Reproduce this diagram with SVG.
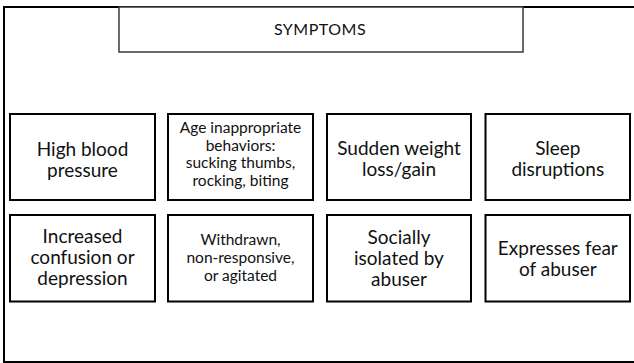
<svg xmlns="http://www.w3.org/2000/svg" width="634" height="363" viewBox="0 0 634 363">
<style>
.frame{fill:none;stroke:#000;stroke-width:2}
.title{fill:#fff;stroke:#3a3a3a;stroke-width:1.5}
.box{fill:#fff;stroke:#000;stroke-width:2}
text{font-family:Lato,"Liberation Sans",sans-serif;fill:#111;text-anchor:middle}
.t{font-size:16px;letter-spacing:0.5px}
.l{font-size:19px}
.s{font-size:15.5px}
</style>
<rect width="634" height="363" fill="#fff"/>
<path class="frame" d="M640 7 H4 V362 H640"/>
<g id="title">
<rect class="title" x="119" y="7" width="404" height="45"/>
<text class="t" x="320" y="35">SYMPTOMS</text>
</g>
<g id="connectors"></g>
<g id="n1"><rect class="box" x="10" y="114" width="145" height="86"/>
<text class="l" x="82.5" y="155.5">High blood</text><text class="l" x="82.5" y="176.5">pressure</text></g>
<g id="n2"><rect class="box" x="168" y="114" width="145" height="86"/>
<text class="s" x="240.5" y="133">Age inappropriate</text><text class="s" x="240.5" y="150.5">behaviors:</text><text class="s" x="240.5" y="168">sucking thumbs,</text><text class="s" x="240.5" y="185.5">rocking, biting</text></g>
<g id="n3"><rect class="box" x="327" y="114" width="144" height="86"/>
<text class="l" x="399" y="155">Sudden weight</text><text class="l" x="399" y="176">loss/gain</text></g>
<g id="n4"><rect class="box" x="485.5" y="114" width="144.5" height="86"/>
<text class="l" x="557.8" y="155">Sleep</text><text class="l" x="557.8" y="176">disruptions</text></g>
<g id="n5"><rect class="box" x="10" y="215" width="145" height="86.5"/>
<text class="l" x="82.5" y="243">Increased</text><text class="l" x="82.5" y="264">confusion or</text><text class="l" x="82.5" y="285">depression</text></g>
<g id="n6"><rect class="box" x="168" y="215" width="145" height="86.5"/>
<text class="s" x="240.5" y="245">Withdrawn,</text><text class="s" x="240.5" y="263">non-responsive,</text><text class="s" x="240.5" y="281">or agitated</text></g>
<g id="n7"><rect class="box" x="327" y="215" width="144" height="86.5"/>
<text class="l" x="399" y="244">Socially</text><text class="l" x="399" y="265">isolated by</text><text class="l" x="399" y="286">abuser</text></g>
<g id="n8"><rect class="box" x="485.5" y="215" width="144.5" height="86.5"/>
<text class="l" x="557.8" y="255">Expresses fear</text><text class="l" x="557.8" y="276">of abuser</text></g>
</svg>
